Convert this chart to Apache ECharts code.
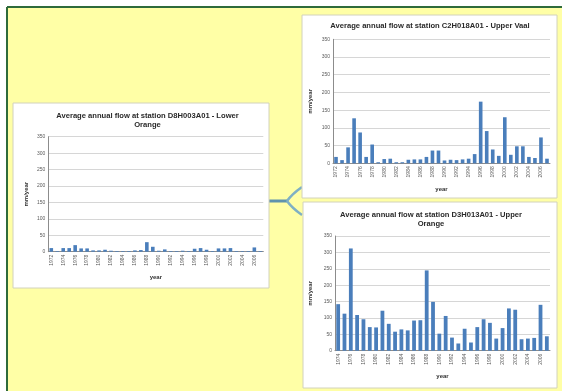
<!DOCTYPE html>
<html>
<head>
<meta charset="utf-8">
<script src="https://cdn.jsdelivr.net/npm/echarts@6/dist/echarts.min.js"></script>
<style>
  html, body { margin: 0; padding: 0; background: #ffffff; }
  #chart { width: 562px; height: 391px; }
</style>
</head>
<body>
<div id="chart"></div>
<script>
// Station records: average annual flow (mm/year)
const vaalYears = ['1972','1973','1974','1975','1976','1977','1978','1979','1980','1981','1982','1983',
  '1984','1985','1986','1987','1988','1989','1990','1991','1992','1993','1994','1995',
  '1996','1997','1998','1999','2000','2001','2002','2003','2004','2005','2006','2007'];
const vaalFlow = [18, 9, 45, 127, 87, 18, 53, 3, 12, 13, 3, 3,
  10, 11, 11, 18, 36, 36, 8, 10, 9, 11, 13, 26,
  174, 91, 39, 21, 130, 24, 48, 48, 18, 15, 73, 13];

const upperOrangeYears = ['1974','1975','1976','1977','1978','1979','1980','1981','1982','1983',
  '1984','1985','1986','1987','1988','1989','1990','1991','1992','1993','1994','1995',
  '1996','1997','1998','1999','2000','2001','2002','2003','2004','2005','2006','2007'];
const upperOrangeFlow = [142, 113, 312, 109, 96, 72, 71, 122, 82, 58,
  65, 62, 92, 93, 245, 149, 52, 106, 40, 22, 67, 25,
  72, 96, 85, 37, 69, 129, 125, 35, 37, 39, 140, 44];

const lowerOrangeYears = ['1972','1973','1974','1975','1976','1977','1978','1979','1980','1981','1982','1983',
  '1984','1985','1986','1987','1988','1989','1990','1991','1992','1993','1994','1995',
  '1996','1997','1998','1999','2000','2001','2002','2003','2004','2005','2006','2007'];
const lowerOrangeFlow = [11, 2, 11, 11, 20, 10, 10, 4, 4, 6, 3, 2,
  2, 2, 4, 5, 29, 15, 3, 7, 2, 2, 3, 2,
  9, 11, 6, 2, 10, 10, 11, 2, 2, 2, 13, 2];

const flowAxisMin = 0;
const flowAxisMax = 350;
const flowAxisStep = 50;

const vaalTitle = 'Average annual flow at station C2H018A01 - Upper Vaal';
const upperOrangeTitle = 'Average annual flow at station D3H013A01 - Upper\nOrange';
const lowerOrangeTitle = 'Average annual flow at station D8H003A01 - Lower\nOrange';

const FONT = '"Liberation Sans Narrow", "Liberation Sans", Arial, sans-serif';
const BAR = '#4a7ebb';

function xAxisFor(gridIndex, years, gap) {
  return {
    type: 'category', gridIndex: gridIndex, data: years,
    axisTick: { show: false },
    axisLine: { lineStyle: { color: '#8c8c8c', width: 1 } },
    axisLabel: { rotate: 90, interval: 1, fontSize: 5, color: '#5a5a5a', margin: 3, fontFamily: FONT },
    name: 'year', nameLocation: 'middle', nameGap: gap,
    nameTextStyle: { fontSize: 6, fontWeight: 'bold', color: '#333333', fontFamily: FONT }
  };
}
function yAxisFor(gridIndex, gap) {
  return {
    type: 'value', gridIndex: gridIndex,
    min: flowAxisMin, max: flowAxisMax, interval: flowAxisStep,
    axisLine: { show: true, lineStyle: { color: '#8c8c8c', width: 1 } },
    axisTick: { show: false },
    splitLine: { lineStyle: { color: '#d6d6d6', width: 1 } },
    axisLabel: { fontSize: 5, color: '#5a5a5a', margin: 3, fontFamily: FONT },
    name: 'mm/year', nameLocation: 'middle', nameRotate: 90, nameGap: gap,
    nameTextStyle: { fontSize: 6, fontWeight: 'bold', color: '#333333', fontFamily: FONT }
  };
}
function barSeries(i, values) {
  return {
    type: 'bar', xAxisIndex: i, yAxisIndex: i, data: values,
    barCategoryGap: '40%', itemStyle: { color: BAR }, silent: true
  };
}
function panel(x, y, w, h) {
  return { type: 'rect', z: -5, shape: { x: x, y: y, width: w, height: h },
    style: { fill: '#ffffff', stroke: '#d2d2bc', lineWidth: 1 } };
}
function titleText(text, x, y) {
  return { type: 'text', z: 10, x: x, y: y,
    style: { text: text, align: 'center', verticalAlign: 'middle', fontSize: 7.6, fontWeight: 'bold',
      fontFamily: FONT, fill: '#2a2a2a', lineHeight: 9.3 } };
}

const chart = echarts.init(document.getElementById('chart'), null, { renderer: 'canvas' });
chart.setOption({
  animation: false,
  backgroundColor: '#ffffff',
  grid: [
    { left: 333, top: 39.3, width: 217, height: 124 },
    { left: 335, top: 236, width: 215, height: 114.7 },
    { left: 48.3, top: 136.7, width: 215, height: 115 }
  ],
  xAxis: [
    xAxisFor(0, vaalYears, 23),
    xAxisFor(1, upperOrangeYears, 23),
    xAxisFor(2, lowerOrangeYears, 23)
  ],
  yAxis: [yAxisFor(0, 20), yAxisFor(1, 22), yAxisFor(2, 19)],
  series: [
    barSeries(0, vaalFlow),
    barSeries(1, upperOrangeFlow),
    barSeries(2, lowerOrangeFlow)
  ],
  graphic: { elements: [
    // yellow backdrop with dark green frame on top and left
    { type: 'rect', z: -10, shape: { x: 7, y: 7, width: 555, height: 384 }, style: { fill: '#ffffa6' } },
    { type: 'line', z: -9, shape: { x1: 7, y1: 7, x2: 562, y2: 7 }, style: { stroke: '#2f6b3a', lineWidth: 2 } },
    { type: 'line', z: -9, shape: { x1: 7, y1: 7, x2: 7, y2: 391 }, style: { stroke: '#2f6b3a', lineWidth: 2 } },
    // connector fork between the panels
    { type: 'polyline', z: -6, shape: { points: [[269, 201], [287, 201]] },
      style: { stroke: '#5f93ad', lineWidth: 3, fill: null } },
    { type: 'bezierCurve', z: -6, shape: { x1: 287, y1: 201, x2: 302, y2: 187, cpx1: 292, cpy1: 194 },
      style: { stroke: '#7fb0c4', lineWidth: 2.5, fill: null } },
    { type: 'bezierCurve', z: -6, shape: { x1: 287, y1: 201, x2: 302, y2: 215, cpx1: 292, cpy1: 208 },
      style: { stroke: '#7fb0c4', lineWidth: 2.5, fill: null } },
    panel(302, 15, 255, 183),
    panel(303, 202, 254, 186),
    panel(13, 103, 256, 185),
    titleText(vaalTitle, 430, 25.7),
    titleText(upperOrangeTitle, 431, 219.5),
    titleText(lowerOrangeTitle, 147.5, 120.3)
  ] }
});
</script>
</body>
</html>
